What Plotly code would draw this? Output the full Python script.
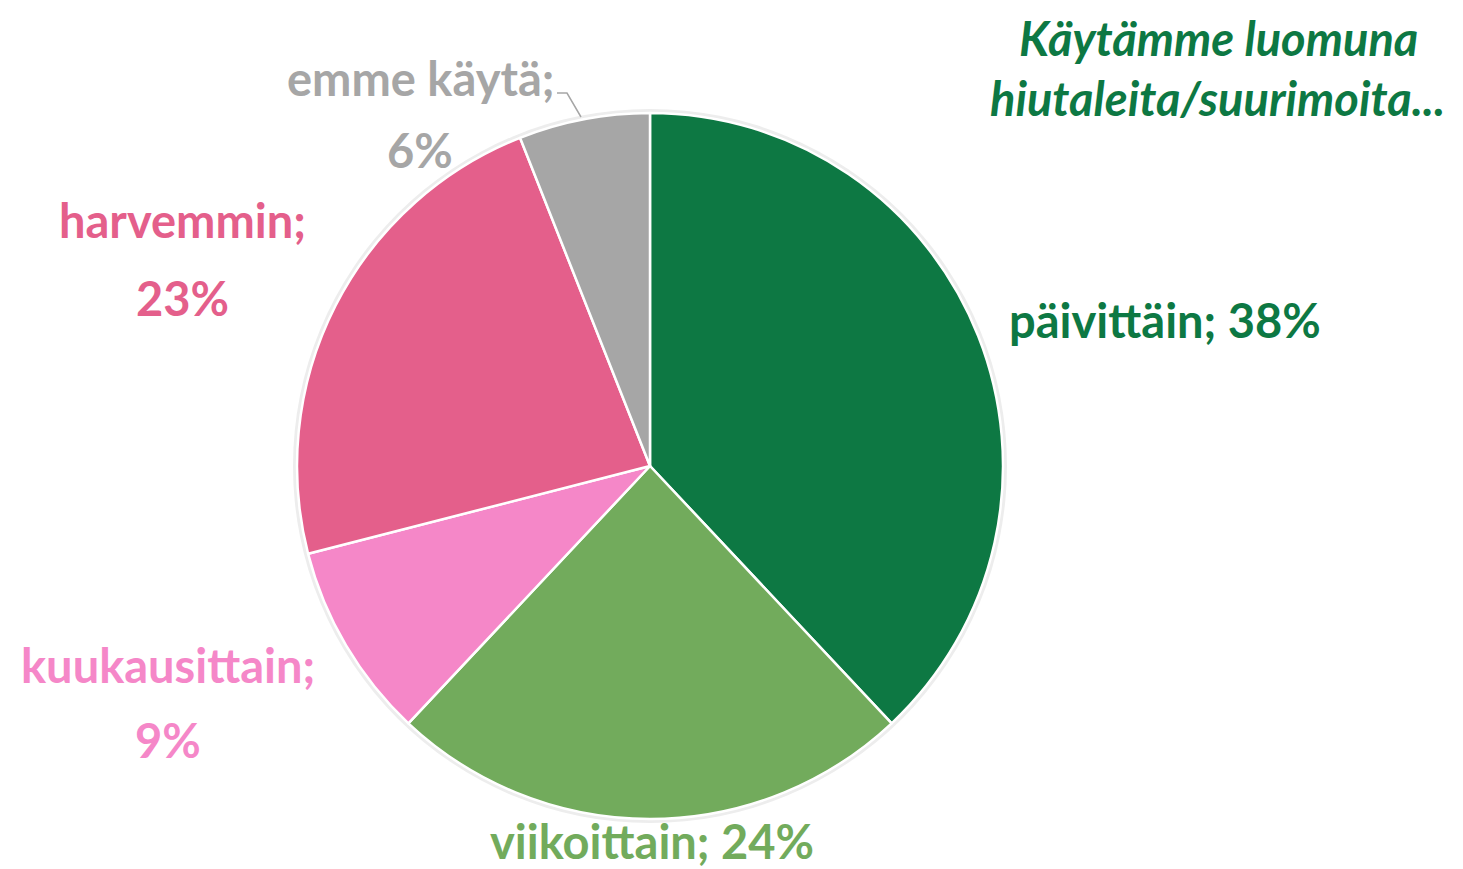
import plotly.graph_objects as go

labels = ["päivittäin", "viikoittain", "kuukausittain", "harvemmin", "emme käytä"]
values = [38, 24, 9, 23, 6]
colors = ["#0d7843", "#72ab5c", "#f587c8", "#e45f8b", "#a6a6a6"]
title_lines = ["Käytämme luomuna", "hiutaleita/suurimoita..."]

# page is 1463x869; the html body adds an 8px margin
OFF = 8
W, H = 1463 - OFF, 869 - OFF
def px(x): return (x - OFF) / W
def py(y): return 1 - (y - OFF) / H

cx, cy, r = 650, 466, 353

def dom(rad):
    return dict(x=[px(cx - rad), px(cx + rad)], y=[py(cy + rad), py(cy - rad)])

fig = go.Figure()
# faint shadow ring
fig.add_trace(go.Pie(values=[1], labels=[""], marker=dict(colors=["#ededed"], line=dict(width=0)),
                     textinfo="none", hoverinfo="skip", showlegend=False, sort=False,
                     domain=dom(r + 4)))
fig.add_trace(go.Pie(
    labels=labels, values=values, sort=False, direction="clockwise", rotation=0,
    marker=dict(colors=colors, line=dict(color="white", width=2.5)),
    textinfo="none", hoverinfo="label+percent", showlegend=False,
    domain=dom(r),
))

FONT = "Lato"
ann = []
placements = [
    (0, [f"{labels[0]}; {values[0]}%"], [(1165, 320)]),
    (1, [f"{labels[1]}; {values[1]}%"], [(652, 841)]),
    (2, [f"{labels[2]};", f"{values[2]}%"], [(168, 665), (168, 740)]),
    (3, [f"{labels[3]};", f"{values[3]}%"], [(182, 220), (182, 298)]),
    (4, [f"{labels[4]};", f"{values[4]}%"], [(420, 78), (420, 150)]),
]
for i, lines, pos in placements:
    for t, (x, y) in zip(lines, pos):
        ann.append(dict(text=f"<b>{t}</b>", x=px(x), y=py(y), xref="paper", yref="paper",
                        xanchor="center", yanchor="middle", showarrow=False,
                        font=dict(family=FONT, size=47, color=colors[i])))

ann.append(dict(text=f"<b><i>{title_lines[0]}</i></b>", x=px(1218), y=1, xref="paper", yref="paper",
                xanchor="center", yanchor="top", showarrow=False,
                font=dict(family=FONT, size=47, color=colors[0])))
ann.append(dict(text=f"<b><i>{title_lines[1]}</i></b>", x=px(1217), y=py(98), xref="paper", yref="paper",
                xanchor="center", yanchor="middle", showarrow=False,
                font=dict(family=FONT, size=47, color=colors[0])))

shapes = [dict(type="path", xref="paper", yref="paper",
               path=f"M {px(557)} {py(93)} L {px(567)} {py(93)} L {px(581)} {py(117)}",
               line=dict(color="#a6a6a6", width=1.5))]

fig.update_layout(width=W, height=H, margin=dict(l=0, r=0, t=0, b=0),
                  paper_bgcolor="white", plot_bgcolor="white",
                  annotations=ann, shapes=shapes)
fig.write_html("out.html")
